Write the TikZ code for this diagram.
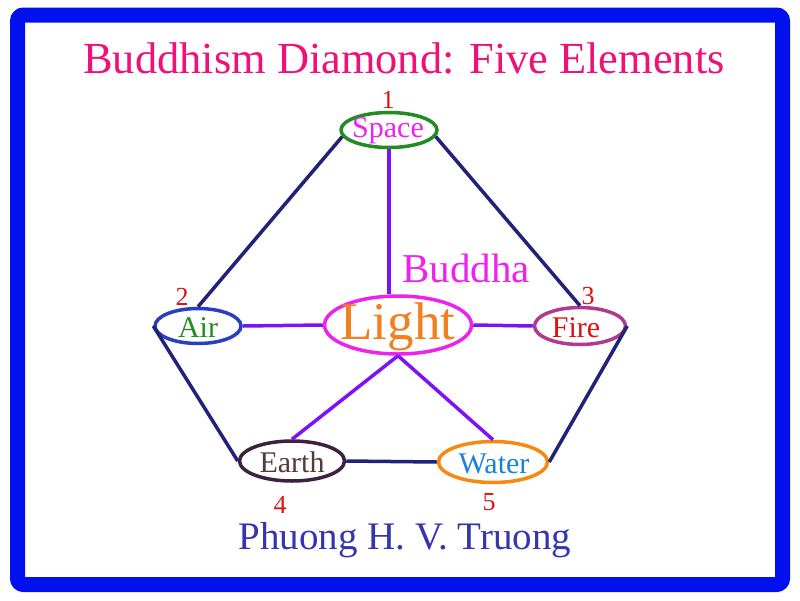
\documentclass[tikz,border=0pt]{standalone}
\usepackage{fontspec}
\setmainfont{Liberation Serif}
\usetikzlibrary{shapes.geometric}
\definecolor{frameblue}{HTML}{0011EE}
\definecolor{titlepink}{HTML}{EE1177}
\definecolor{navyline}{HTML}{22227A}
\definecolor{purpline}{HTML}{7F11F5}
\definecolor{spacegreen}{HTML}{228B22}
\definecolor{magtext}{HTML}{EE22EE}
\definecolor{airblue}{HTML}{2A3FBF}
\definecolor{lightorange}{HTML}{F08020}
\definecolor{firering}{HTML}{B03A90}
\definecolor{firered}{HTML}{E01010}
\definecolor{earthring}{HTML}{3D2240}
\definecolor{earthtext}{HTML}{553A3A}
\definecolor{waterring}{HTML}{F58A10}
\definecolor{watertext}{HTML}{1A80E0}
\definecolor{authorblue}{HTML}{3535B0}
\definecolor{numred}{HTML}{DD1111}
\tikzset{
  elem/.style={ellipse, draw, line width=3.5pt, inner sep=0pt},
  elemtxt/.style={inner sep=0pt, font=\fontsize{30}{32}\selectfont},
  numlbl/.style={text=numred, font=\fontsize{26}{28}\selectfont, inner sep=0pt},
  outerline/.style={navyline, line width=3.5pt},
  innerline/.style={purpline, line width=3.5pt}
}
\begin{document}
\begin{tikzpicture}[x=1pt,y=-1pt]
\useasboundingbox (0,0) rectangle (800,600);
\fill[white] (0,0) rectangle (800,600);
\draw[frameblue, line width=15pt, rounded corners=6pt] (17.5,15) rectangle (782.5,584.5);

\node[text=titlepink, font=\fontsize{44.4}{46}\selectfont, inner sep=0pt] (title) at (404,58) {Buddhism Diamond: Five Elements};

\node[elem, draw=spacegreen, minimum width=96pt, minimum height=35pt] (Space) at (389,130) {};
\node[elem, draw=airblue, minimum width=86pt, minimum height=35pt] (Air) at (198,326) {};
\node[elem, draw=magtext, minimum width=147pt, minimum height=58pt] (Light) at (398,325) {};
\node[elem, draw=firering, minimum width=91pt, minimum height=37pt] (Fire) at (580,326) {};
\node[elem, draw=earthring, minimum width=105pt, minimum height=40pt] (Earth) at (292,461) {};
\node[elem, draw=waterring, minimum width=109pt, minimum height=41pt] (Water) at (493,462) {};

\node[elemtxt, text=magtext] (Spacetxt) at (388,131) {Space};
\node[elemtxt, text=spacegreen] (Airtxt) at (198,328) {Air};
\node[elemtxt, text=lightorange, font=\fontsize{53}{55}\selectfont] (Lighttxt) at (398,327) {Light};
\node[elemtxt, text=firered] (Firetxt) at (576,328) {Fire};
\node[elemtxt, text=earthtext] (Earthtxt) at (292,462) {Earth};
\node[elemtxt, text=watertext] (Watertxt) at (494,464) {Water};

\node[text=magtext, font=\fontsize{41}{43}\selectfont, inner sep=0pt] (buddha) at (466,268) {Buddha};

\node[numlbl] (n1) at (388,100) {1};
\node[numlbl] (n2) at (182,297) {2};
\node[numlbl] (n3) at (588,296) {3};
\node[numlbl] (n4) at (280,505) {4};
\node[numlbl] (n5) at (489,502) {5};

\node[text=authorblue, font=\fontsize{39}{41}\selectfont, inner sep=0pt] (author) at (405,540) {Phuong H. V. Truong};

% outer pentagon connectors
\draw[outerline] (Space.188) -- (Air.north);
\draw[outerline] (Space.352) -- (Fire.north);
\draw[outerline] (Air.west) -- (Earth.west);
\draw[outerline] (Fire.east) -- (Water.east);
\draw[outerline] (Earth.east) -- (Water.west);
% inner connectors
\draw[innerline] (Space.south) -- (Space.south |- Light.north);
\draw[innerline] (Air.east) -- (Light.west);
\draw[innerline] (Light.east) -- (Fire.west);
\draw[innerline] (Light.south) -- (Earth.north);
\draw[innerline] (Light.south) -- (Water.north);
\end{tikzpicture}
\end{document}
